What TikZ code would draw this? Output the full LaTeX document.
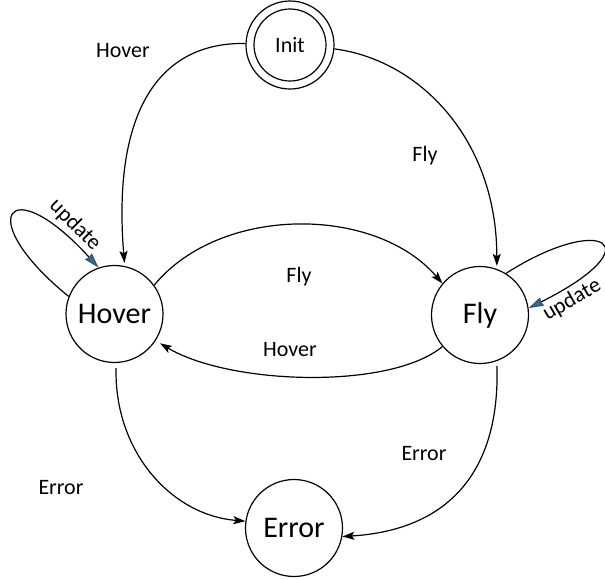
\documentclass[tikz,border=0pt]{standalone}
\usepackage{fontspec}
\setmainfont{Carlito}
\usetikzlibrary{arrows.meta}
\definecolor{tipblue}{RGB}{58,104,150}
\begin{document}
\begin{tikzpicture}[x=1pt,y=-1pt,
  line width=1.2pt,
  state/.style={circle,draw,inner sep=0pt,minimum size=97pt,font=\fontsize{30}{34}\selectfont},
  startstate/.style={circle,draw,inner sep=0pt,minimum size=88pt,font=\fontsize{22}{26}\selectfont},
  lbl/.style={font=\fontsize{22}{26}\selectfont,inner sep=0pt},
  trans/.style={-{Stealth[length=12pt,width=8pt,inset=2.5pt]}},
  loopedge/.style={-{Stealth[length=15pt,width=9pt,inset=1pt,color=tipblue!80!black,fill=tipblue]}}]
\useasboundingbox (0,0) rectangle (605,579);

% states
\node[startstate] (init) at (290,45) {Init};
\draw (init.center) circle[radius=36pt];
\node[state] (hover) at (114.5,314) {Hover};
\node[state] (fly) at (480,315) {Fly};
\node[state] (error) at (294,528) {Error};

% transitions out of Init
\draw[trans,shorten >=3pt] (init.178) .. controls (160,42) and (112,110) .. (hover.78);
\draw[trans,shorten >=3pt] (init.-5) .. controls (420,60) and (497,140) .. (fly.70);

% transitions between Hover and Fly
\draw[trans] (hover.36) .. controls (220,205) and (375,205) .. (fly.140);
\draw[trans,shorten >=5pt] (fly.220) .. controls (390,390) and (230,385) .. (hover.-33);

% transitions into Error
\draw[trans,shorten <=5pt] (hover.-88) .. controls (114,450) and (170,515) .. (error.172);
\draw[trans,shorten <=5pt] (fly.-70) .. controls (500,470) and (450,530) .. (error.-10);

% self loops
\draw[loopedge] (hover.159) .. controls (-28,218) and (8,168) .. (hover.109);
\draw[loopedge] (fly.58) .. controls (602,212) and (655,245) .. (fly.8);

% labels
\node[lbl] (lhoverinit) at (123,51) {Hover};
\node[lbl] (lflyinit) at (425,156) {Fly};
\node[lbl] (lfly) at (299,277) {Fly};
\node[lbl] (lhover) at (290,350) {Hover};
\node[lbl] (lerrorl) at (61,488) {Error};
\node[lbl] (lerrorr) at (424,454) {Error};
\node[lbl,rotate=-45] (lupdh) at (75,225) {update};
\node[lbl,rotate=30] (lupdf) at (572,300) {update};
\end{tikzpicture}
\end{document}
